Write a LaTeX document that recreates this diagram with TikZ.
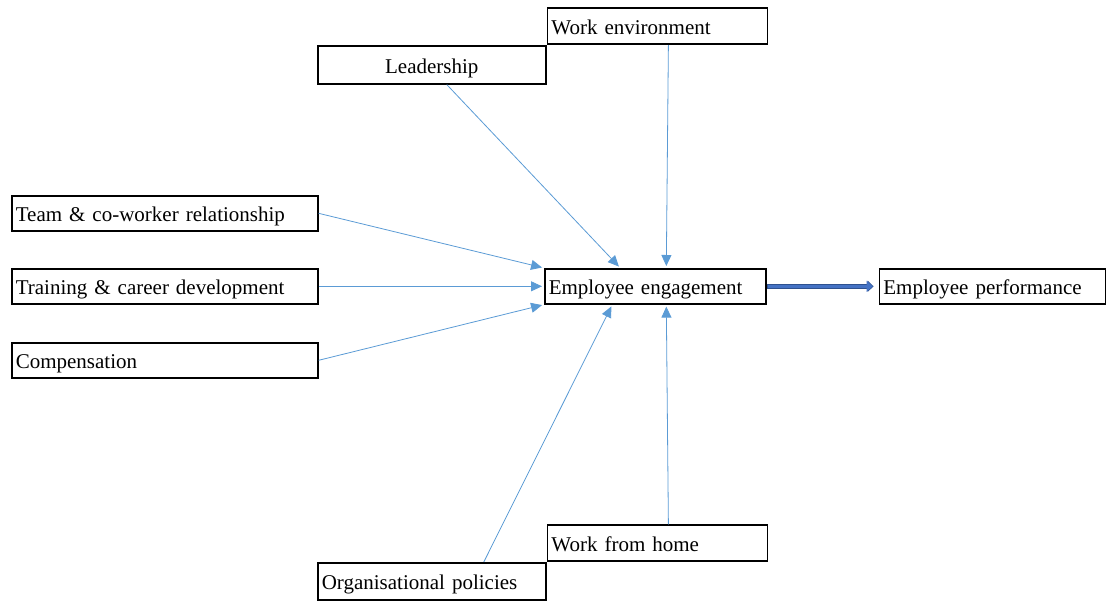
\documentclass[tikz,border=0pt]{standalone}
\usepackage{fontspec}
\setmainfont{Liberation Serif}
\usepackage{xcolor}
\usepackage{tikz}
\usetikzlibrary{arrows.meta,positioning}

\definecolor{linkblue}{RGB}{91,155,213}
\definecolor{fatblue}{RGB}{68,114,196}
\definecolor{fatedge}{RGB}{47,82,143}

\begin{document}
\begin{tikzpicture}[
    x=1pt, y=-1pt,
    box/.style={draw, line width=1.6pt, anchor=north west, align=left,
                inner xsep=4pt, inner ysep=0pt, minimum height=35pt,
                text height=19pt, text depth=2pt,
                text width=#1, font=\fontsize{21}{24}\selectfont},
    arrow/.style={-{Triangle[length=11pt,width=10pt]}, draw=linkblue, line width=0.8pt,
                  shorten >=2pt},
    fatarrow/.style={-{Triangle[length=6pt,width=11pt]}, line width=#1}
]
\useasboundingbox (0,0) rectangle (1106,603);

% left column
\node[box=298pt] (team) at (11,195) {Team \& co-worker relationship};
\node[box=298pt, below=36.4pt of team] (train) {Training \& career development};
\node[box=298pt, below=37.4pt of train] (comp) {Compensation};

% centre and right
\node[box=213pt] (eng) at (544,268) {Employee engagement};
\node[box=218pt, right=112pt of eng] (perf) {Employee performance};

% top
\node[box=220pt, align=center, minimum height=38pt] (lead) at (317,45) {Leadership};
\node[box=212pt, anchor=south west, minimum height=36pt] (env) at (lead.north east) {Work environment};

% bottom
\node[box=220pt, minimum height=37pt] (org) at (317,562) {Organisational policies};
\node[box=212pt, anchor=south west, minimum height=36pt] (wfh) at (org.north east) {Work from home};

% factors into engagement
\draw[arrow] ([xshift=15pt]lead.south) -- ([xshift=-35pt]eng.north);
\draw[arrow] ([xshift=11pt]env.south) -- ([xshift=11pt]eng.north);
\draw[arrow] (team.east) -- (eng.north west);
\draw[arrow] (train.east) -- (eng.west);
\draw[arrow] (comp.east) -- (eng.south west);
\draw[arrow] ([xshift=52pt]org.north) -- ([xshift=-43pt]eng.south);
\draw[arrow] ([xshift=11pt]wfh.north) -- ([xshift=11pt]eng.south);

% engagement to performance
\draw[fatarrow=5pt, draw=fatedge, shorten >=5pt] (eng.east) -- (perf.west);
\draw[fatarrow=3pt, draw=fatblue, shorten >=6pt, shorten <=1pt] (eng.east) -- (perf.west);
\end{tikzpicture}
\end{document}
